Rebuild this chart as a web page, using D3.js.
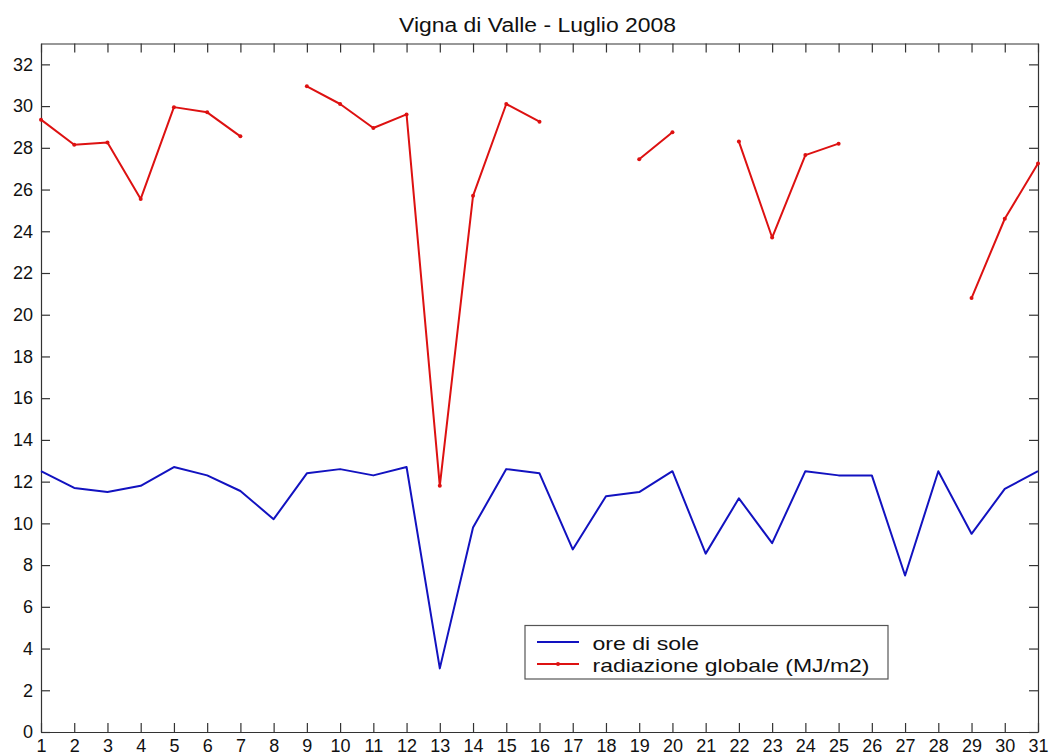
<!DOCTYPE html>
<html>
<head>
<meta charset="utf-8">
<script src="https://cdn.jsdelivr.net/npm/d3@7"></script>
<style>
  body { margin: 0; background: #fff; }
  text { font-family: "Liberation Sans", Arial, sans-serif; fill: #111; }
</style>
</head>
<body>
<div id="chart"></div>
<script>
// data (giorni di luglio 2008)
var days = d3.range(1, 32);
var yTicks = d3.range(0, 33, 2);

// ore di sole
var oreSole = [12.5, 11.7, 11.5, 11.8, 12.7, 12.3, 11.55, 10.2, 12.4, 12.6,
  12.3, 12.7, 3.05, 9.8, 12.6, 12.4, 8.75, 11.3, 11.5, 12.5,
  8.55, 11.2, 9.05, 12.5, 12.3, 12.3, 7.5, 12.5, 9.5, 11.65, 12.5];

// radiazione globale (MJ/m2), null = dato mancante
var radiazione = [29.35, 28.15, 28.25, 25.55, 29.95, 29.7, 28.55, null, 30.95, 30.1,
  28.95, 29.6, 11.8, 25.7, 30.1, 29.25, null, null, 27.45, 28.75,
  null, 28.3, 23.7, 27.65, 28.2, null, null, null, 20.8, 24.6, 27.25];

var title = "Vigna di Valle - Luglio 2008";
var legendLabels = ["ore di sole", "radiazione globale (MJ/m2)"];

var blue = "#1212c0",
  red = "#dd1111";

// set the dimensions and margins of the graph
var margin = {
    top: 43.5,
    right: 12,
    bottom: 24,
    left: 41
  },
  width = 1050 - margin.left - margin.right,
  height = 756 - margin.top - margin.bottom;

var svg = d3.select("#chart")
  .append("svg")
  .attr("width", 1050)
  .attr("height", 756)
  .append("g")
  .attr("transform", "translate(" + margin.left + "," + margin.top + ")");

var x = d3.scaleLinear()
  .domain([1, 31])
  .range([0, width]);

var y = d3.scaleLinear()
  .domain([0, 33])
  .range([height, 0]);

// axes, ticks pointing inward on all four sides
function styleAxis(g) {
  g.selectAll(".domain").attr("stroke", "#333").attr("stroke-width", 1.2);
  g.selectAll(".tick line").attr("stroke", "#333").attr("stroke-width", 1.2);
  g.selectAll(".tick text")
    .style("font-family", "'Liberation Sans', Arial, sans-serif")
    .style("font-size", "18px")
    .attr("fill", "#111");
}

svg.append("g")
  .attr("transform", "translate(0," + height + ")")
  .call(d3.axisBottom(x).tickValues(days).tickFormat(d3.format("d"))
    .tickSize(-9).tickSizeOuter(0).tickPadding(7))
  .call(styleAxis)
  .selectAll(".tick text").attr("dy", "0.7em");

svg.append("g")
  .call(d3.axisTop(x).tickValues(days).tickFormat("")
    .tickSize(-9).tickSizeOuter(0))
  .call(styleAxis);

svg.append("g")
  .call(d3.axisLeft(y).tickValues(yTicks).tickFormat(d3.format("d"))
    .tickSize(-9).tickSizeOuter(0).tickPadding(8))
  .call(styleAxis);

svg.append("g")
  .attr("transform", "translate(" + width + ",0)")
  .call(d3.axisRight(y).tickValues(yTicks).tickFormat("")
    .tickSize(-9).tickSizeOuter(0))
  .call(styleAxis);

// ore di sole
var lineSole = d3.line()
  .x(function(d, i) { return x(days[i]); })
  .y(function(d) { return y(d); });

svg.append("path")
  .datum(oreSole)
  .attr("fill", "none")
  .attr("stroke", blue)
  .attr("stroke-width", 2)
  .attr("stroke-linejoin", "round")
  .attr("d", lineSole);

// radiazione globale, broken where data is missing
var lineRad = d3.line()
  .defined(function(d) { return d !== null; })
  .x(function(d, i) { return x(days[i]); })
  .y(function(d) { return y(d); });

svg.append("path")
  .datum(radiazione)
  .attr("fill", "none")
  .attr("stroke", red)
  .attr("stroke-width", 2)
  .attr("stroke-linejoin", "round")
  .attr("d", lineRad);

svg.append("g")
  .selectAll("circle")
  .data(radiazione.map(function(v, i) { return { day: days[i], v: v }; })
    .filter(function(d) { return d.v !== null; }))
  .enter()
  .append("circle")
  .attr("cx", function(d) { return x(d.day); })
  .attr("cy", function(d) { return y(d.v); })
  .attr("r", 2)
  .attr("fill", red);

// title
svg.append("text")
  .attr("x", 537.5 - margin.left)
  .attr("y", 31.7 - margin.top)
  .attr("text-anchor", "middle")
  .attr("textLength", 277)
  .attr("lengthAdjust", "spacingAndGlyphs")
  .style("font-size", "19.5px")
  .text(title);

// legend
var legend = svg.append("g")
  .attr("transform", "translate(" + (525 - margin.left) + "," + (625.5 - margin.top) + ")");

legend.append("rect")
  .attr("width", 363)
  .attr("height", 53.5)
  .attr("fill", "#fff")
  .attr("stroke", "#555")
  .attr("stroke-width", 1.2);

var legendColors = [blue, red];
var legendWidths = [106.5, 277];

legendLabels.forEach(function(label, i) {
  var ly = 16.5 + i * 22;
  legend.append("line")
    .attr("x1", 12)
    .attr("x2", 54)
    .attr("y1", ly)
    .attr("y2", ly)
    .attr("stroke", legendColors[i])
    .attr("stroke-width", 2);
  if (i == 1) {
    legend.append("circle")
      .attr("cx", 33)
      .attr("cy", ly)
      .attr("r", 2)
      .attr("fill", red);
  }
  legend.append("text")
    .attr("x", 67.5)
    .attr("y", ly + 2.5)
    .attr("dy", "0.3em")
    .attr("textLength", legendWidths[i])
    .attr("lengthAdjust", "spacingAndGlyphs")
    .style("font-size", "18.5px")
    .text(label);
});
</script>
</body>
</html>
